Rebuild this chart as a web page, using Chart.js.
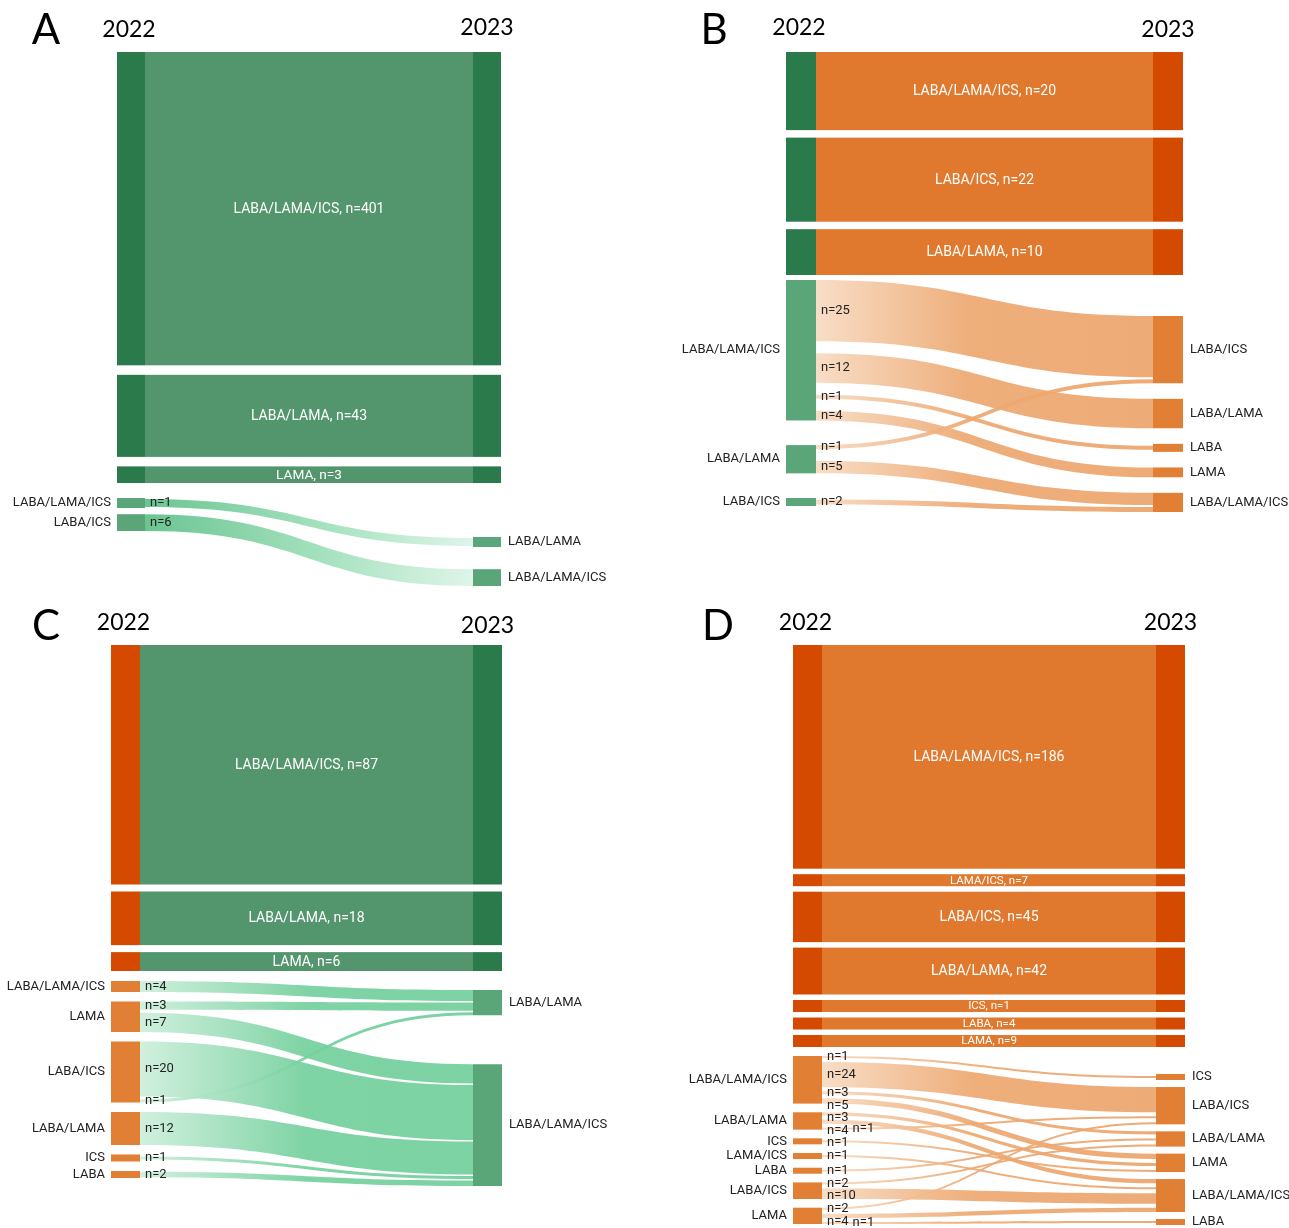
<!DOCTYPE html>
<html><head><meta charset="utf-8">
<script src="https://cdn.jsdelivr.net/npm/chart.js@4.4.1/dist/chart.umd.min.js"></script>
<style>
html,body{margin:0;padding:0;background:#fff;}
#wrap{position:relative;width:1289px;height:1228px;overflow:hidden;background:#fff;}
canvas{position:absolute;}
</style></head><body>
<div id="wrap">
<canvas id="cA" width="645" height="600" style="left:0;top:0"></canvas>
<canvas id="cB" width="644" height="600" style="left:645px;top:0"></canvas>
<canvas id="cC" width="645" height="628" style="left:0;top:600px"></canvas>
<canvas id="cD" width="644" height="628" style="left:645px;top:600px"></canvas>
</div>
<script>
// ---------------- DATA ----------------
const years = ['2022', '2023'];

// Panel A
const aStayLabels = ['LABA/LAMA/ICS', 'LABA/LAMA', 'LAMA'];
const aStayValues = [401, 43, 3];
const aFromNodes = ['LABA/LAMA/ICS', 'LABA/ICS'];
const aToNodes = ['LABA/LAMA', 'LABA/LAMA/ICS'];
const aLinkFrom = ['LABA/LAMA/ICS', 'LABA/ICS'];
const aLinkTo = ['LABA/LAMA', 'LABA/LAMA/ICS'];
const aLinkValues = [1, 6];

// Panel B
const bStayLabels = ['LABA/LAMA/ICS', 'LABA/ICS', 'LABA/LAMA'];
const bStayValues = [20, 22, 10];
const bFromNodes = ['LABA/LAMA/ICS', 'LABA/LAMA', 'LABA/ICS'];
const bToNodes = ['LABA/ICS', 'LABA/LAMA', 'LABA', 'LAMA', 'LABA/LAMA/ICS'];
const bLinkFrom = ['LABA/LAMA/ICS', 'LABA/LAMA/ICS', 'LABA/LAMA/ICS', 'LABA/LAMA/ICS', 'LABA/LAMA', 'LABA/LAMA', 'LABA/ICS'];
const bLinkTo = ['LABA/ICS', 'LABA/LAMA', 'LABA', 'LAMA', 'LABA/ICS', 'LABA/LAMA/ICS', 'LABA/LAMA/ICS'];
const bLinkValues = [25, 12, 1, 4, 1, 5, 2];

// Panel C
const cStayLabels = ['LABA/LAMA/ICS', 'LABA/LAMA', 'LAMA'];
const cStayValues = [87, 18, 6];
const cFromNodes = ['LABA/LAMA/ICS', 'LAMA', 'LABA/ICS', 'LABA/LAMA', 'ICS', 'LABA'];
const cToNodes = ['LABA/LAMA', 'LABA/LAMA/ICS'];
const cLinkFrom = ['LABA/LAMA/ICS', 'LAMA', 'LAMA', 'LABA/ICS', 'LABA/ICS', 'LABA/LAMA', 'ICS', 'LABA'];
const cLinkTo = ['LABA/LAMA', 'LABA/LAMA', 'LABA/LAMA/ICS', 'LABA/LAMA/ICS', 'LABA/LAMA', 'LABA/LAMA/ICS', 'LABA/LAMA/ICS', 'LABA/LAMA/ICS'];
const cLinkValues = [4, 3, 7, 20, 1, 12, 1, 2];

// Panel D
const dStayLabels = ['LABA/LAMA/ICS', 'LAMA/ICS', 'LABA/ICS', 'LABA/LAMA', 'ICS', 'LABA', 'LAMA'];
const dStayValues = [186, 7, 45, 42, 1, 4, 9];
const dFromNodes = ['LABA/LAMA/ICS', 'LABA/LAMA', 'ICS', 'LAMA/ICS', 'LABA', 'LABA/ICS', 'LAMA'];
const dToNodes = ['ICS', 'LABA/ICS', 'LABA/LAMA', 'LAMA', 'LABA/LAMA/ICS', 'LABA'];
const dLinkFrom = ['LABA/LAMA/ICS', 'LABA/LAMA/ICS', 'LABA/LAMA/ICS', 'LABA/LAMA/ICS',
                   'LABA/LAMA', 'LABA/LAMA', 'LABA/LAMA', 'ICS', 'LAMA/ICS', 'LABA',
                   'LABA/ICS', 'LABA/ICS', 'LAMA', 'LAMA', 'LAMA'];
const dLinkTo = ['ICS', 'LABA/ICS', 'LABA/LAMA', 'LAMA',
                 'LAMA', 'LABA/LAMA/ICS', 'LABA/ICS', 'LAMA', 'LABA/LAMA/ICS', 'LABA/LAMA',
                 'LABA/LAMA', 'LABA/LAMA/ICS', 'LABA/ICS', 'LABA/LAMA/ICS', 'LABA'];
const dLinkValues = [1, 24, 3, 5, 3, 4, 1, 1, 1, 1, 2, 10, 2, 4, 1];

// ---------------- STYLE ----------------
const GREEN_DARK = '#2a7a4b', GREEN_BAND = '#53956d', GREEN_NODE = '#5aa679';
const ORANGE_DARK = '#d34a00', ORANGE_BAND = '#e0792d', ORANGE_NODE = '#e17f34';
const GRAD_GREEN_FADE = [[0, '#5fbf89'], [0.55, '#9ee0ba'], [1, '#dcf4e7']];
const GRAD_GREEN_RISE = [[0, '#cdefdc'], [0.5, '#74d09d'], [1, '#72cf9b']];
const GRAD_ORANGE_RISE = [[0, '#f8dbc2'], [0.45, '#eda870'], [1, '#eca46c']];
const LABEL_FONT = '13px Roboto, "Noto Sans", sans-serif';
const LABEL_STEP = 12.5;

const panels = [
  { id: 'cA', letter: 'A', letterPos: [46, 30], yearY: [30, 28],
    stayLabels: aStayLabels, stayValues: aStayValues, fromNodes: aFromNodes, toNodes: aToNodes,
    linkFrom: aLinkFrom, linkTo: aLinkTo, linkValues: aLinkValues,
    colL: [117, 145], colR: [473, 501],
    topRange: [52, 483], topGap: 9.5, topPow: 0.6, topMin: 10,
    leftRange: [498, 531], rightRange: [537, 586], k: 2.8, minLink: 8, minNode: 10, srcPad: 0, tgtPad: 0,
    topLeft: GREEN_DARK, band: GREEN_BAND, topRight: GREEN_DARK,
    nodeLeft: GREEN_NODE, nodeRight: GREEN_NODE, grad: GRAD_GREEN_FADE },
  { id: 'cB', letter: 'B', letterPos: [69, 30], yearY: [28, 30],
    stayLabels: bStayLabels, stayValues: bStayValues, fromNodes: bFromNodes, toNodes: bToNodes,
    linkFrom: bLinkFrom, linkTo: bLinkTo, linkValues: bLinkValues,
    colL: [141, 171], colR: [508, 538],
    topRange: [52, 275], topGap: 7.5, topPow: 0.77, topMin: 10,
    leftRange: [280, 506], rightRange: [316, 512], k: 2.45, minLink: 4, minNode: 8, srcPad: 12, tgtPad: 2,
    topLeft: GREEN_DARK, band: ORANGE_BAND, topRight: ORANGE_DARK,
    nodeLeft: GREEN_NODE, nodeRight: ORANGE_NODE, grad: GRAD_ORANGE_RISE },
  { id: 'cC', letter: 'C', letterPos: [46, 26], yearY: [23, 26],
    stayLabels: cStayLabels, stayValues: cStayValues, fromNodes: cFromNodes, toNodes: cToNodes,
    linkFrom: cLinkFrom, linkTo: cLinkTo, linkValues: cLinkValues,
    colL: [111, 140], colR: [473, 502],
    topRange: [45, 371], topGap: 7, topPow: 0.95, topMin: 10,
    leftRange: [381, 578], rightRange: [390, 586], k: 2.75, minLink: 3, minNode: 7, srcPad: 3, tgtPad: 1.5,
    topLeft: ORANGE_DARK, band: GREEN_BAND, topRight: GREEN_DARK,
    nodeLeft: ORANGE_NODE, nodeRight: GREEN_NODE, grad: GRAD_GREEN_RISE },
  { id: 'cD', letter: 'D', letterPos: [73, 26], yearY: [23, 23],
    stayLabels: dStayLabels, stayValues: dStayValues, fromNodes: dFromNodes, toNodes: dToNodes,
    linkFrom: dLinkFrom, linkTo: dLinkTo, linkValues: dLinkValues,
    colL: [148, 177], colR: [511, 540],
    topRange: [45, 447], topGap: 5.5, topPow: 1.05, topMin: 12,
    leftRange: [456, 624], rightRange: [474, 625], k: 1.05, minLink: 2, minNode: 6, srcPad: 4, tgtPad: 4,
    topLeft: ORANGE_DARK, band: ORANGE_BAND, topRight: ORANGE_DARK,
    nodeLeft: ORANGE_NODE, nodeRight: ORANGE_NODE, grad: GRAD_ORANGE_RISE }
];

// ---------------- LAYOUT ----------------
function layoutPanel(p) {
  const n = p.stayValues.length;
  const avail = (p.topRange[1] - p.topRange[0]) - p.topGap * (n - 1);
  const pw = p.stayValues.map(v => Math.pow(v, p.topPow));
  const minSet = new Array(n).fill(false);
  let c = 1;
  for (let it = 0; it < 6; it++) {
    let fixed = 0, sum = 0;
    pw.forEach((w, i) => { if (minSet[i]) fixed += p.topMin; else sum += w; });
    c = (avail - fixed) / sum;
    let changed = false;
    pw.forEach((w, i) => { if (!minSet[i] && c * w < p.topMin) { minSet[i] = true; changed = true; } });
    if (!changed) break;
  }
  let y = p.topRange[0];
  const rows = p.stayValues.map((v, i) => {
    const h = minSet[i] ? p.topMin : c * pw[i];
    const r = { label: p.stayLabels[i], value: v, y0: y, y1: y + h };
    y += h + p.topGap;
    return r;
  });
  const links = p.linkFrom.map((f, i) => ({
    from: f, to: p.linkTo[i], value: p.linkValues[i],
    w: Math.max(p.minLink, p.k * p.linkValues[i])
  }));
  function buildCol(names, key, pad, range, posKey) {
    const nodes = names.map(name => {
      const ls = links.filter(l => l[key] === name);
      const content = ls.reduce((s, l) => s + l.w, 0) + pad * Math.max(0, ls.length - 1);
      return { name, links: ls, content, h: Math.max(p.minNode, content) };
    });
    const total = nodes.reduce((s, nd) => s + nd.h, 0);
    const gap = nodes.length > 1 ? ((range[1] - range[0]) - total) / (nodes.length - 1) : 0;
    let yy = range[0];
    nodes.forEach(nd => {
      nd.y0 = yy; nd.y1 = yy + nd.h;
      let ly = yy + (nd.h - nd.content) / 2;
      nd.links.forEach(l => { l[posKey] = ly; ly += l.w + pad; });
      yy += nd.h + gap;
    });
    return nodes;
  }
  const left = buildCol(p.fromNodes, 'from', p.srcPad, p.leftRange, 'sy');
  const right = buildCol(p.toNodes, 'to', p.tgtPad, p.rightRange, 'ty');
  return { rows, links, left, right };
}

// ---------------- DRAW PLUGIN ----------------
function sankeyPlugin(p, L) {
  return {
    id: 'sankey_' + p.id,
    afterDatasetsDraw(chart) {
      const ctx = chart.ctx;
      const xs = chart.scales.x, ys = chart.scales.y;
      const X = v => xs.getPixelForValue(v), Y = v => ys.getPixelForValue(v);
      ctx.save();
      // top rows (unchanged treatment)
      L.rows.forEach(r => {
        const y0 = Y(r.y0), y1 = Y(r.y1);
        ctx.fillStyle = p.band;
        ctx.fillRect(X(p.colL[1]), y0, X(p.colR[0]) - X(p.colL[1]), y1 - y0);
        ctx.fillStyle = p.topLeft;
        ctx.fillRect(X(p.colL[0]), y0, X(p.colL[1]) - X(p.colL[0]), y1 - y0);
        ctx.fillStyle = p.topRight;
        ctx.fillRect(X(p.colR[0]), y0, X(p.colR[1]) - X(p.colR[0]), y1 - y0);
        const h = y1 - y0;
        const fs = Math.max(11.5, Math.min(14, h - 3));
        ctx.font = fs + 'px Roboto, "Noto Sans", sans-serif';
        ctx.fillStyle = '#ffffff';
        ctx.textAlign = 'center'; ctx.textBaseline = 'middle';
        ctx.fillText(r.label + ', n=' + r.value, (X(p.colL[1]) + X(p.colR[0])) / 2, (y0 + y1) / 2 + 0.5);
      });
      // links
      const x0 = X(p.colL[1]), x1 = X(p.colR[0]), xm = (x0 + x1) / 2;
      const grad = ctx.createLinearGradient(x0, 0, x1, 0);
      p.grad.forEach(s => grad.addColorStop(s[0], s[1]));
      ctx.globalAlpha = 0.92;
      L.links.forEach(l => {
        const sy0 = Y(l.sy), sy1 = Y(l.sy + l.w), ty0 = Y(l.ty), ty1 = Y(l.ty + l.w);
        ctx.beginPath();
        ctx.moveTo(x0, sy0);
        ctx.bezierCurveTo(xm, sy0, xm, ty0, x1, ty0);
        ctx.lineTo(x1, ty1);
        ctx.bezierCurveTo(xm, ty1, xm, sy1, x0, sy1);
        ctx.closePath();
        ctx.fillStyle = grad;
        ctx.fill();
      });
      ctx.globalAlpha = 1;
      // nodes
      L.left.forEach(nd => {
        ctx.fillStyle = p.nodeLeft;
        ctx.fillRect(X(p.colL[0]), Y(nd.y0), X(p.colL[1]) - X(p.colL[0]), Y(nd.y1) - Y(nd.y0));
      });
      L.right.forEach(nd => {
        ctx.fillStyle = p.nodeRight;
        ctx.fillRect(X(p.colR[0]), Y(nd.y0), X(p.colR[1]) - X(p.colR[0]), Y(nd.y1) - Y(nd.y0));
      });
      // node labels
      ctx.font = LABEL_FONT;
      ctx.fillStyle = '#222222';
      ctx.textBaseline = 'middle';
      ctx.textAlign = 'right';
      L.left.forEach(nd => ctx.fillText(nd.name, X(p.colL[0]) - 6, (Y(nd.y0) + Y(nd.y1)) / 2));
      ctx.textAlign = 'left';
      L.right.forEach(nd => ctx.fillText(nd.name, X(p.colR[1]) + 7, (Y(nd.y0) + Y(nd.y1)) / 2));
      // flow labels with simple collision avoidance
      const placed = [];
      L.left.forEach(nd => {
        nd.links.forEach(l => {
          const text = 'n=' + l.value;
          const w = ctx.measureText(text).width;
          const baseX = X(p.colL[1]) + 5, baseY = Y(l.sy + l.w / 2);
          let cx = baseX, cy = baseY;
          const limit = Y(nd.y1) + 3;
          for (let a = 0; a < 8; a++) {
            const hit = placed.find(q => Math.abs(q.y - cy) < LABEL_STEP && cx < q.x + q.w && cx + w > q.x);
            if (!hit) break;
            if (hit.y + LABEL_STEP <= limit && cx === baseX) cy = hit.y + LABEL_STEP;
            else { cx = hit.x + hit.w + 4; cy = baseY; }
          }
          placed.push({ x: cx, y: cy, w });
          ctx.fillText(text, cx, cy);
        });
      });
      // years and panel letter
      ctx.fillStyle = '#000000';
      ctx.textAlign = 'center';
      ctx.font = '23px Lato, "Open Sans", sans-serif';
      ctx.fillText(years[0], X((p.colL[0] + p.colL[1]) / 2) - 2, Y(p.yearY[0]));
      ctx.fillText(years[1], X((p.colR[0] + p.colR[1]) / 2), Y(p.yearY[1]));
      ctx.font = '42px Lato, "Open Sans", sans-serif';
      ctx.fillText(p.letter, X(p.letterPos[0]), Y(p.letterPos[1]));
      ctx.restore();
    }
  };
}

panels.forEach(p => {
  const cv = document.getElementById(p.id);
  const L = layoutPanel(p);
  new Chart(cv, {
    type: 'scatter',
    data: { datasets: [{ data: [] }] },
    options: {
      responsive: false, animation: false, devicePixelRatio: 1,
      layout: { padding: 0 },
      plugins: { legend: { display: false }, tooltip: { enabled: false }, title: { display: false } },
      scales: {
        x: { type: 'linear', min: 0, max: cv.width, display: false },
        y: { type: 'linear', min: 0, max: cv.height, reverse: true, display: false }
      }
    },
    plugins: [sankeyPlugin(p, L)]
  });
});
</script>
</body></html>
